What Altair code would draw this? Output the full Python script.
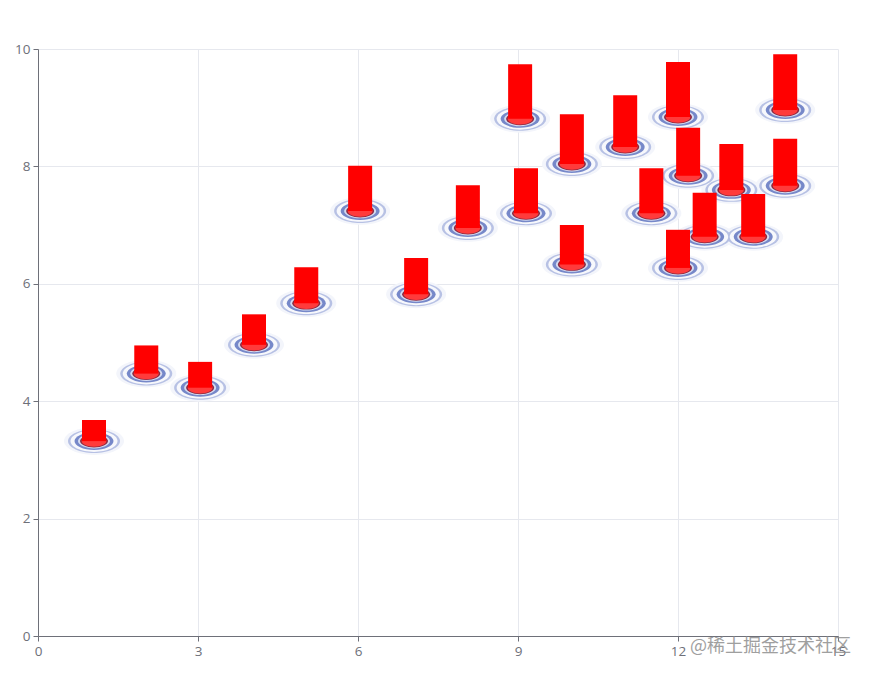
import altair as alt
import pandas as pd

# Values
x_vals = [1.05, 2.03, 3.04, 4.05, 5.03, 6.04, 7.09, 8.06, 9.04, 9.15, 10.01, 10.01,
          11.01, 11.5, 12.0, 12.0, 12.19, 12.5, 13.0, 13.41, 14.01, 14.01]
y_vals = [3.32, 4.47, 4.23, 4.96, 5.67, 7.24, 5.82, 6.95, 8.81, 7.2, 8.04, 6.33,
          8.33, 7.2, 6.27, 8.84, 7.84, 6.8, 7.6, 6.8, 8.96, 7.67]
top_vals = [3.68, 4.95, 4.67, 5.48, 6.28, 8.01, 6.44, 7.68, 9.74, 7.97, 8.89, 7.0,
            9.21, 7.97, 6.92, 9.78, 8.66, 7.55, 8.38, 7.53, 9.91, 8.47]

W, H = 800, 587
df = pd.DataFrame({"x": x_vals, "y": y_vals, "top": top_vals})
ELLIPSE = "M-1,0 A1,0.46 0 1,1 1,0 A1,0.46 0 1,1 -1,0 Z"

xs = alt.Scale(domain=[0, 15], nice=False, padding=0)
ys = alt.Scale(domain=[0, 10], nice=False, padding=0)
AX = dict(grid=True, gridColor="#e6e8ee", domainColor="#6e7079", tickColor="#6e7079",
          tickSize=5, labelColor="#6e7079", labelFont="Open Sans", labelFontSize=13.5,
          labelPadding=3, labelFlush=False, labelOverlap=False, title=None, format="d")
X = alt.X("x:Q", scale=xs, axis=alt.Axis(values=[0, 3, 6, 9, 12, 15], **AX))
Y = alt.Y("y:Q", scale=ys, axis=alt.Axis(values=[0, 2, 4, 6, 8, 10], **AX))


def disc(radius, color):
    return alt.Chart(df).mark_point(shape=ELLIPSE, size=(2 * radius) ** 2, filled=True,
                                    fill=color, strokeWidth=0, opacity=1).encode(x=X, y=Y)


layers = [
    disc(30, "#f3f5fb"),
    disc(26, "#b7c1e4"),
    disc(23.5, "#f7f8fc"),
    disc(19.5, "#7688c9"),
    disc(16, "#d5dbf0"),
    disc(14, "#8c2840"),
    disc(12.4, "#ff3b3b"),
    alt.Chart(df).mark_bar(width=24, color="#ff0000", opacity=1).encode(
        x=X, y=alt.Y("top:Q", scale=ys), y2=alt.Y2("y:Q")),
]

mark = (alt.Chart(pd.DataFrame({"t": ["@稀土掘金技术社区"]}))
        .mark_text(align="right", baseline="middle", font="Noto Sans CJK SC", fontSize=18,
                   color="#8f8f8f", opacity=0.85)
        .encode(text="t:N", x=alt.value(813), y=alt.value(598)))

chart = alt.layer(*layers, mark).properties(
    width=W, height=H, background="#ffffff",
    autosize=alt.AutoSizeParams(type="none"),
    padding={"left": 30, "top": 41, "right": 25, "bottom": 30},
).configure_view(stroke=None)

chart.save("out.html", embed_options={"renderer": "svg", "actions": False})
